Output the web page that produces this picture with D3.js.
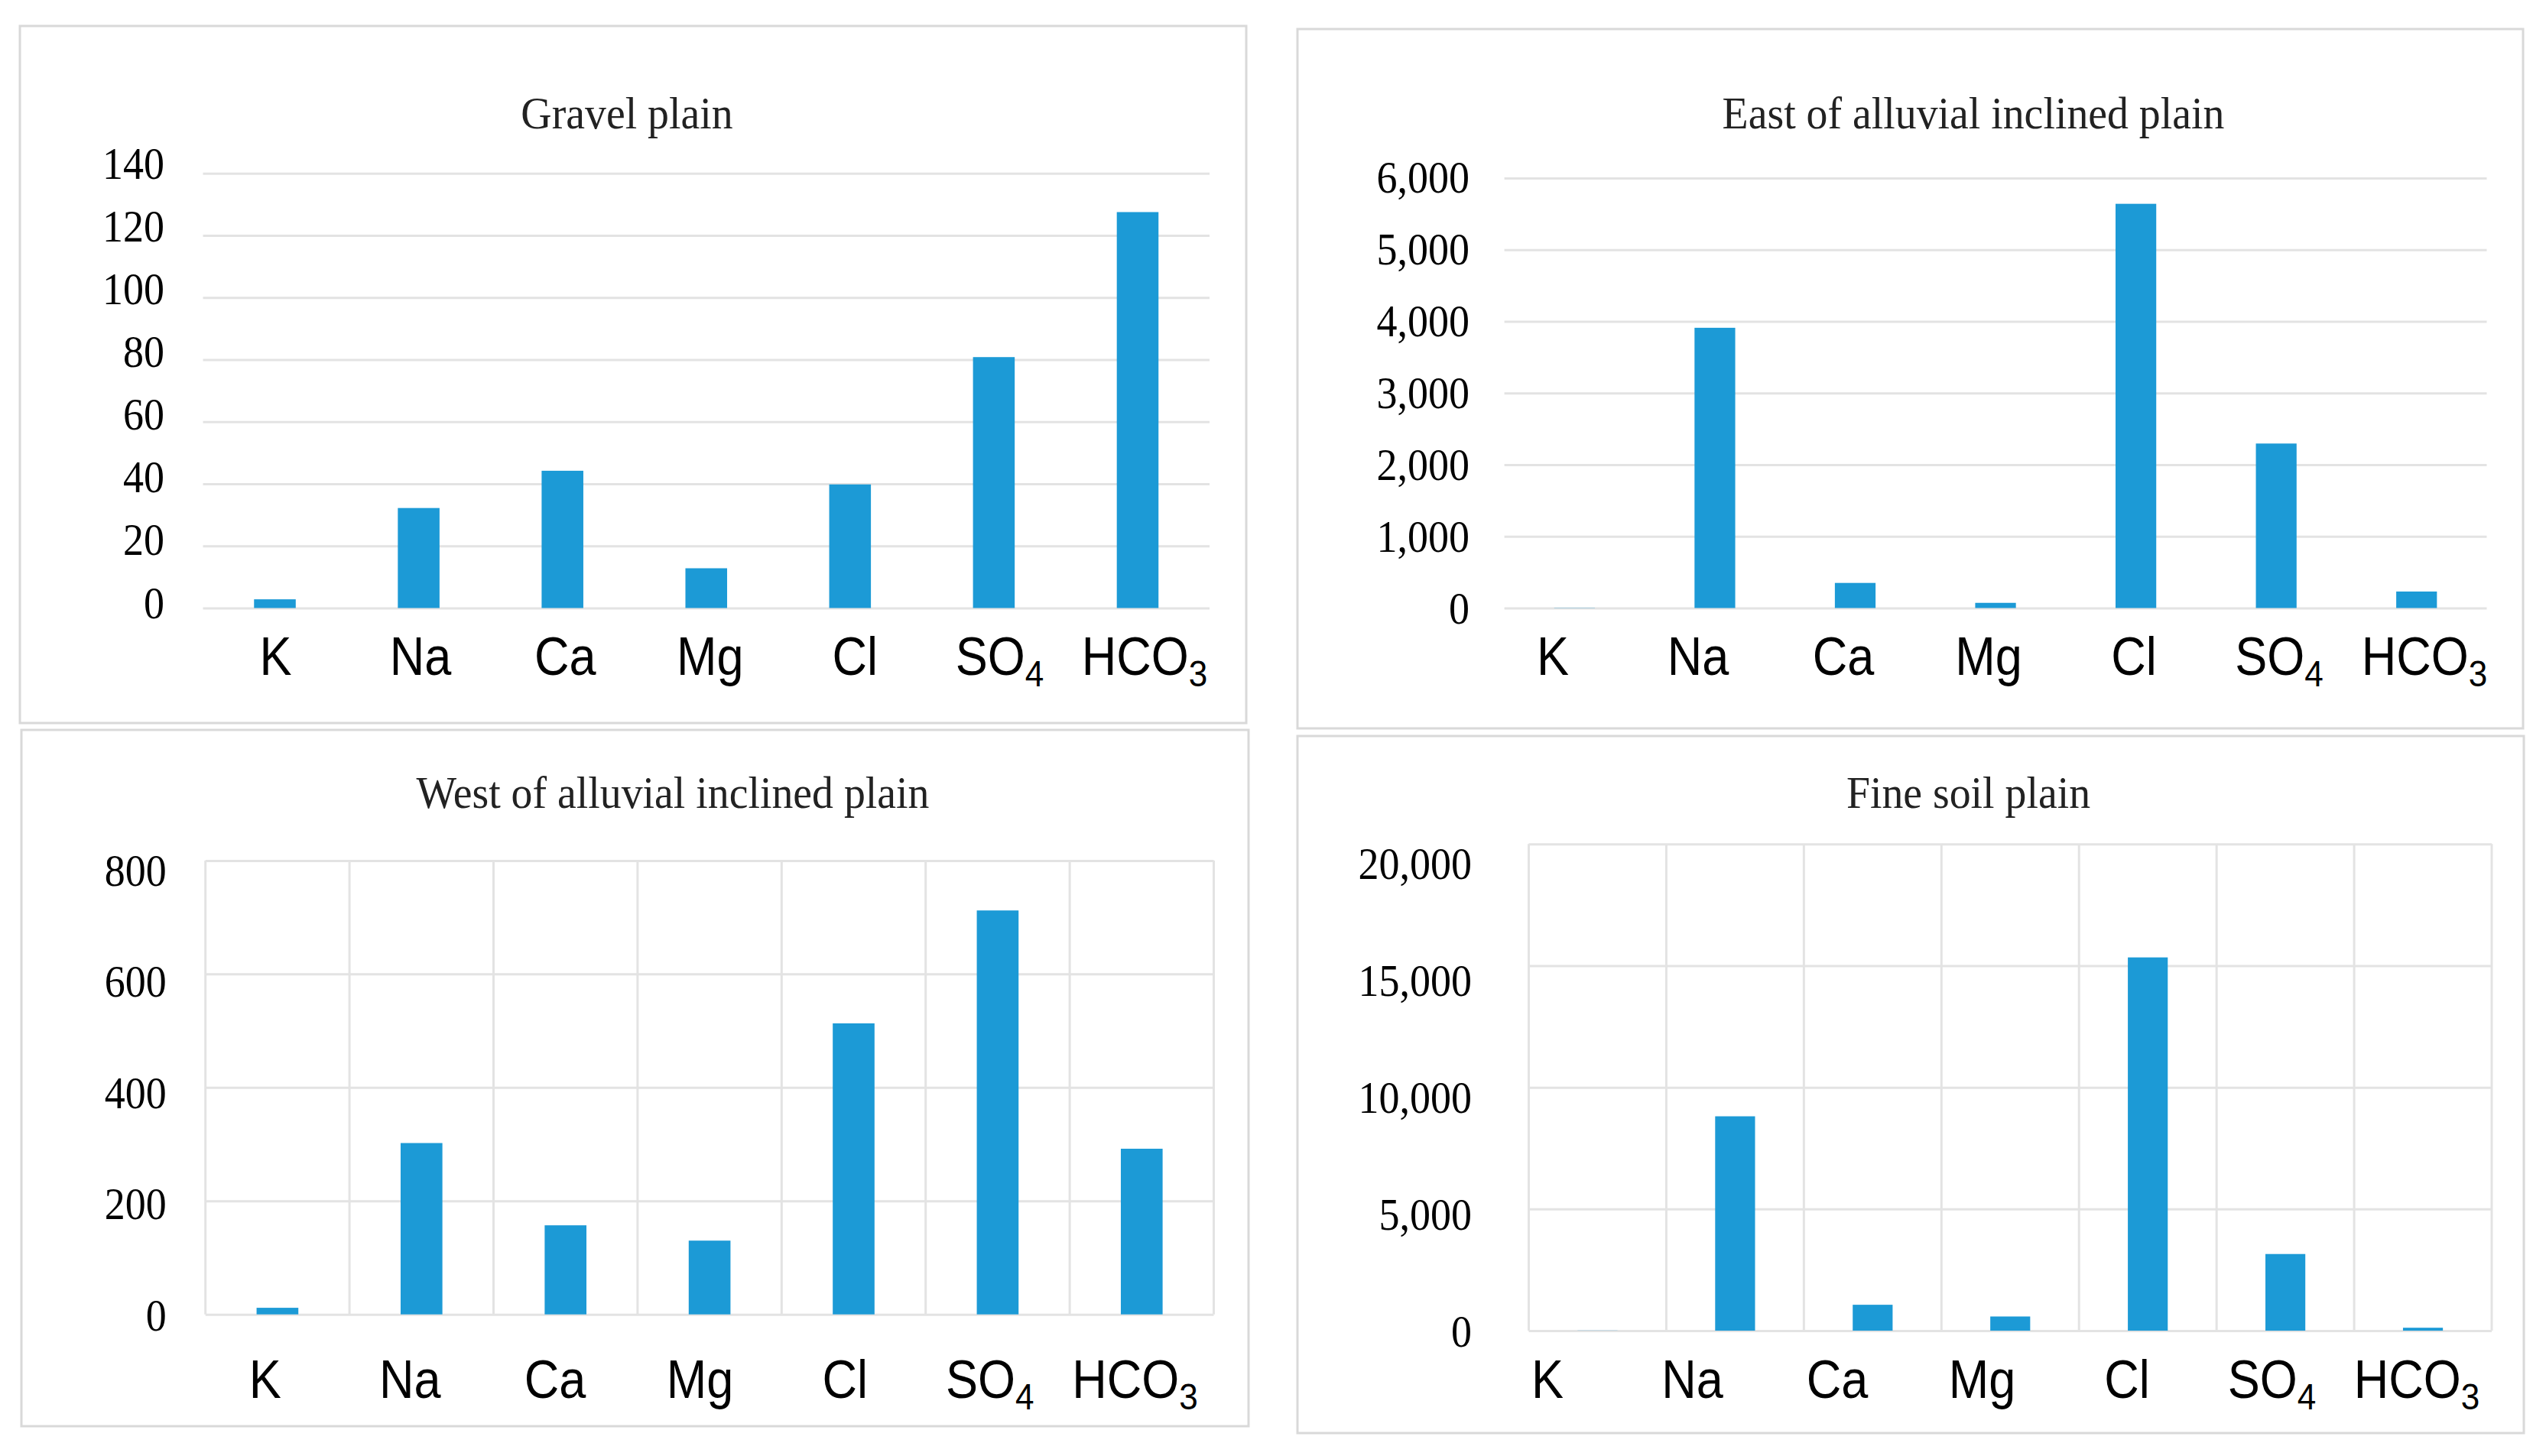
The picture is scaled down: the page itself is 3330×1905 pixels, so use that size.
<!DOCTYPE html>
<html>
<head>
<meta charset="utf-8">
<script src="https://cdn.jsdelivr.net/npm/d3@7"></script>
<style>
  body { margin: 0; background: #fff; }
  svg { display: block; }
</style>
</head>
<body>
<div id="chart"></div>
<script>
// ions on the x axis, the trailing digit is drawn as a subscript
var ions = ["K", "Na", "Ca", "Mg", "Cl", "SO4", "HCO3"];

var titles = ["Gravel plain", "East of alluvial inclined plain",
              "West of alluvial inclined plain", "Fine soil plain"];

// values
var gravel = [2.8, 32.2, 44.2, 12.8, 39.8, 80.8, 127.5];
var east   = [3, 3910, 350, 72, 5640, 2295, 230];
var west   = [11.6, 302, 157, 130, 513, 712, 292];
var fine   = [5, 8810, 1064, 582, 15340, 3150, 120];

// y tick values
var gravelTicks = [0, 20, 40, 60, 80, 100, 120, 140];
var eastTicks   = [0, 1000, 2000, 3000, 4000, 5000, 6000];
var westTicks   = [0, 200, 400, 600, 800];
var fineTicks   = [0, 5000, 10000, 15000, 20000];

var width = 3330, height = 1905;
var barColor = "#1c9ad6";
var serif = "'Liberation Serif', 'Times New Roman', serif";
var sans = "'Liberation Sans', Arial, sans-serif";

var svg = d3.select("#chart").append("svg")
  .attr("width", width)
  .attr("height", height);

// box: panel frame, plot: plot area, lab: first/last ion label centre,
// tickY: where the 0 and top tick labels sit (they drift off the grid in the source)
var panels = [
  { title: titles[0], values: gravel, ticks: gravelTicks, vgrid: false,
    box: [26, 34, 1630, 946], plot: [265.5, 226.7, 1582, 795.5],
    titleX: 820, titleY: 168, lab: [360.5, 1497], labY: 883,
    tickX: 215, tickY: [788, 213.7] },
  { title: titles[1], values: east, ticks: eastTicks, vgrid: false,
    box: [1697, 38, 3300, 953], plot: [1967.6, 232.9, 3252.5, 795.5],
    titleX: 2581, titleY: 168, lab: [2031, 3171], labY: 883,
    tickX: 1922, tickY: [795, 231] },
  { title: titles[2], values: west, ticks: westTicks, vgrid: true,
    box: [28, 955, 1633, 1866], plot: [268.7, 1125.9, 1587.5, 1719.7],
    titleX: 880, titleY: 1057, lab: [346.7, 1484.5], labY: 1829,
    tickX: 217.7, tickY: [1720, 1138.5] },
  { title: titles[3], values: fine, ticks: fineTicks, vgrid: true,
    box: [1697, 963, 3301, 1875], plot: [1999.5, 1104.3, 3259, 1741],
    titleX: 2574.5, titleY: 1057, lab: [2024, 3161], labY: 1829,
    tickX: 1925, tickY: [1741.5, 1129] }
];

panels.forEach(function(p) {
  var g = svg.append("g");

  g.append("rect")
    .attr("x", p.box[0]).attr("y", p.box[1])
    .attr("width", p.box[2] - p.box[0])
    .attr("height", p.box[3] - p.box[1])
    .attr("fill", "#fff")
    .attr("stroke", "#d9d9d9")
    .attr("stroke-width", 3);

  var x = d3.scaleBand().domain(ions).range([p.plot[0], p.plot[2]]).padding(0);
  var y = d3.scaleLinear()
    .domain([0, d3.max(p.ticks)])
    .range([p.plot[3], p.plot[1]]);
  var yLab = d3.scaleLinear().domain(y.domain()).range(p.tickY);
  var labX = d3.scalePoint().domain(ions).range(p.lab);

  // horizontal grid
  var grid = g.append("g")
    .attr("transform", "translate(" + p.plot[0] + ",0)")
    .call(d3.axisLeft(y).tickValues(p.ticks)
      .tickSize(-(p.plot[2] - p.plot[0])).tickFormat(""));
  grid.select(".domain").remove();
  grid.selectAll("line").attr("stroke", "#e3e3e3").attr("stroke-width", 3);

  // vertical grid at band edges
  if (p.vgrid) {
    var edges = ions.map(function(d) { return x(d); }).concat([x.range()[1]]);
    g.selectAll(".vgrid").data(edges).enter()
      .append("line")
      .attr("x1", function(d) { return d; })
      .attr("x2", function(d) { return d; })
      .attr("y1", y.range()[1])
      .attr("y2", y.range()[0])
      .attr("stroke", "#e3e3e3")
      .attr("stroke-width", 3);
  }

  // y tick labels (the source is slightly condensed sideways)
  var yAxis = g.append("g")
    .attr("transform", "translate(" + p.tickX + ",0)")
    .call(d3.axisLeft(yLab).tickValues(p.ticks).tickSize(0).tickPadding(0)
      .tickFormat(d3.format(",")));
  yAxis.select(".domain").remove();
  yAxis.selectAll("text")
    .attr("dy", "20px")
    .attr("transform", "scale(0.9,1)")
    .attr("fill", "#000")
    .style("font-family", serif)
    .style("font-size", "60px");

  // bars
  var barW = x.bandwidth() * 0.29;
  g.selectAll(".bar").data(p.values).enter()
    .append("rect")
    .attr("x", function(d, i) { return x(ions[i]) + (x.bandwidth() - barW) / 2; })
    .attr("y", function(d) { return y(d); })
    .attr("width", barW)
    .attr("height", function(d) { return y(0) - y(d); })
    .attr("fill", barColor);

  // ion labels with subscripts
  var labs = g.selectAll(".ion").data(ions).enter()
    .append("text")
    .attr("transform", function(d) {
      return "translate(" + labX(d) + "," + p.labY + ") scale(0.9,1)";
    })
    .attr("text-anchor", "middle")
    .attr("fill", "#000")
    .style("font-family", sans)
    .style("font-size", "70px");
  labs.each(function(d) {
    var m = d.match(/^([A-Za-z]+)(\d*)$/);
    var t = d3.select(this);
    t.append("tspan").text(m[1]);
    if (m[2]) {
      t.append("tspan").attr("dy", 15).style("font-size", "49px").text(m[2]);
    }
  });

  // title
  g.append("text")
    .attr("transform", "translate(" + p.titleX + "," + p.titleY + ") scale(0.93,1)")
    .attr("text-anchor", "middle")
    .attr("fill", "#222")
    .style("font-family", serif)
    .style("font-size", "60px")
    .text(p.title);
});
</script>
</body>
</html>
